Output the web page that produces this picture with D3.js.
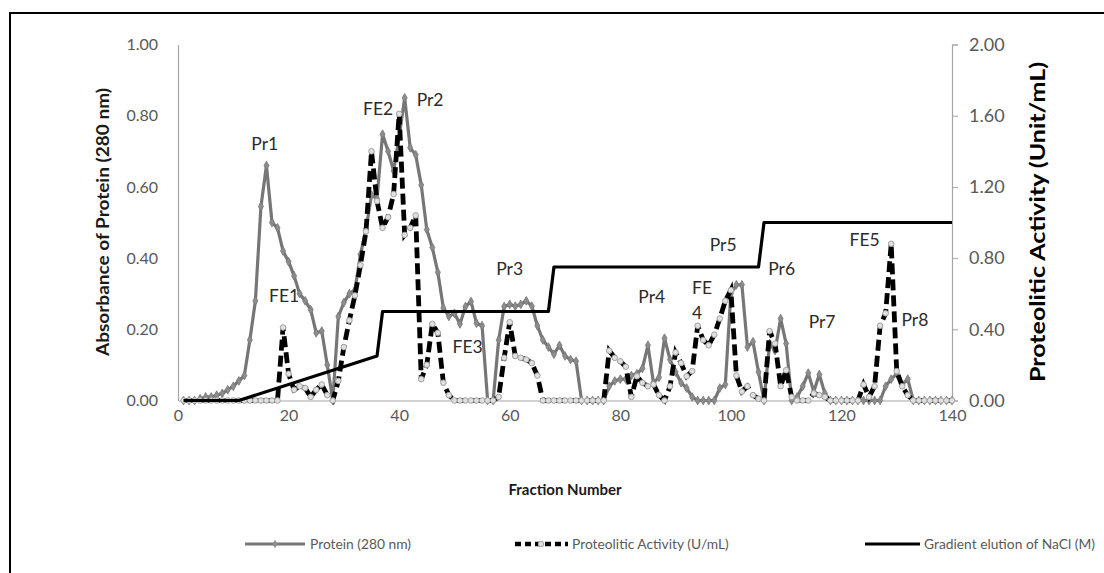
<!DOCTYPE html>
<html>
<head>
<meta charset="utf-8">
<script src="https://cdn.jsdelivr.net/npm/d3@7"></script>
<style>
  body { margin: 0; background: #fff; }
  text { font-family: Lato, "Open Sans", sans-serif; }
</style>
</head>
<body>
<svg id="chart" width="1104" height="573"></svg>
<script>
// fraction numbers 1..140
const fractions = d3.range(1, 141);

// absorbance at 280 nm (left axis), one per fraction
const protein = [
  0, 0, 0, 0.005, 0.01, 0.01, 0.015, 0.02, 0.03, 0.04,
  0.055, 0.07, 0.17, 0.28, 0.545, 0.66, 0.50, 0.485, 0.42, 0.39,
  0.35, 0.30, 0.28, 0.255, 0.19, 0.195, 0.10, 0, 0.236, 0.275,
  0.30, 0.31, 0.41, 0.48, 0.577, 0.567, 0.748, 0.70, 0.645, 0.74,
  0.85, 0.71, 0.69, 0.605, 0.48, 0.43, 0.36, 0.26, 0.236, 0.245,
  0.215, 0.264, 0.278, 0.217, 0.21, 0, 0, 0.17, 0.264, 0.27,
  0.265, 0.27, 0.28, 0.265, 0.21, 0.17, 0.15, 0.13, 0.155, 0.125,
  0.115, 0.11, 0, 0, 0, 0, 0, 0.04, 0.055, 0.06,
  0.06, 0.07, 0.075, 0.09, 0.155, 0.05, 0.065, 0.175, 0.115, 0.08,
  0.05, 0.035, 0.01, 0, 0, 0, 0, 0.035, 0.045, 0.30,
  0.325, 0.325, 0.15, 0.165, 0.08, 0, 0.16, 0.14, 0.23, 0.16,
  0, 0.01, 0.04, 0.077, 0.025, 0.073, 0.02, 0, 0, 0,
  0, 0, 0, 0, 0, 0, 0, 0.04, 0.06, 0.075,
  0.045, 0.06, 0, 0, 0, 0, 0, 0, 0, 0
];

// proteolitic activity U/mL (right axis), one per fraction
const activity = [
  0, 0, 0, 0, 0, 0, 0, 0, 0, 0,
  0, 0, 0, 0, 0, 0, 0, 0, 0.41, 0.15,
  0.06, 0.08, 0.07, 0.02, 0.06, 0.09, 0.03, 0, 0.11, 0.30,
  0.45, 0.59, 0.76, 0.95, 1.40, 1.12, 0.97, 1.03, 1.16, 1.61,
  0.93, 0.97, 1.04, 0.12, 0.20, 0.43, 0.38, 0.10, 0.03, 0,
  0, 0, 0, 0, 0, 0, 0, 0.02, 0.24, 0.44,
  0.25, 0.24, 0.23, 0.21, 0.14, 0, 0, 0, 0, 0,
  0, 0, 0, 0, 0, 0, 0, 0.28, 0.24, 0.22,
  0.19, 0.02, 0.136, 0.10, 0.08, 0.09, 0.03, 0, 0.08, 0.27,
  0.21, 0.136, 0.165, 0.42, 0.34, 0.31, 0.37, 0.46, 0.56, 0.62,
  0.14, 0.05, 0.08, 0.03, 0.01, 0, 0.39, 0.32, 0.08, 0.17,
  0.02, 0, 0, 0, 0.04, 0.03, 0.02, 0, 0, 0,
  0, 0, 0, 0.09, 0.02, 0.08, 0.42, 0.49, 0.88, 0.165,
  0.08, 0.03, 0, 0, 0, 0, 0, 0, 0, 0
];

// NaCl step gradient (right axis), break points
const gradientFractions = [1, 11, 36, 37, 67, 68, 105, 106, 140];
const gradientNaCl = [0, 0, 0.25, 0.5, 0.5, 0.75, 0.75, 1.0, 1.0];

const xTicks = [0, 20, 40, 60, 80, 100, 120, 140];
const leftTicks = [0, 0.2, 0.4, 0.6, 0.8, 1.0];
const rightTicks = [0, 0.4, 0.8, 1.2, 1.6, 2.0];

// peak annotations, anchored in (fraction, absorbance)
const peakNames = ["Pr1", "FE2", "Pr2", "FE1", "FE3", "Pr3", "Pr4", "FE", "4", "Pr5", "Pr6", "Pr7", "FE5", "Pr8"];
const peakFraction = [15.7, 36.2, 45.6, 19.2, 52.4, 60.0, 85.7, 94.8, 93.9, 98.6, 109.2, 116.5, 124.2, 133.3];
const peakAbs = [0.72, 0.82, 0.845, 0.295, 0.15, 0.37, 0.29, 0.315, 0.245, 0.437, 0.37, 0.222, 0.45, 0.227];

const svg = d3.select("#chart");

// outer frame (runs off the right and bottom edges like the source image)
svg.append("rect")
  .attr("x", 10).attr("y", 13)
  .attr("width", 1200).attr("height", 700)
  .attr("fill", "none")
  .attr("stroke", "#000")
  .attr("stroke-width", 2);

const x = d3.scaleLinear().domain([0, 140]).range([178, 952]);
const yL = d3.scaleLinear().domain([0, 1]).range([400.5, 44.5]);
const yR = d3.scaleLinear().domain([0, 2]).range([400.5, 44.5]);

// axes
const gx = svg.append("g")
  .attr("transform", `translate(0,${yL(0)})`)
  .call(d3.axisBottom(x).tickValues(xTicks).tickSize(0).tickPadding(9).tickFormat(d3.format("d")));
const gl = svg.append("g")
  .attr("transform", `translate(${x(0)},0)`)
  .call(d3.axisLeft(yL).tickValues(leftTicks).tickSize(0).tickPadding(20).tickFormat(d3.format(".2f")));
const gr = svg.append("g")
  .attr("transform", `translate(${x(140)},0)`)
  .call(d3.axisRight(yR).tickValues(rightTicks).tickSize(6).tickPadding(11).tickFormat(d3.format(".2f")));

[gx, gl, gr].forEach(g => {
  g.select(".domain").attr("stroke", "#a6a6a6").attr("stroke-width", 1.2);
  g.selectAll(".tick line").attr("stroke", "#a6a6a6");
  g.selectAll(".tick text").attr("fill", "#595959").attr("font-family", "Lato, sans-serif");
});
gx.selectAll(".tick text").attr("font-size", 16);
gl.selectAll(".tick text").attr("font-size", 16);
gr.selectAll(".tick text").attr("font-size", 18);

// axis titles
svg.append("text")
  .attr("transform", "translate(103,222) rotate(-90)")
  .attr("text-anchor", "middle").attr("dy", "0.35em")
  .attr("font-size", 16.5).attr("font-weight", "bold").attr("fill", "#1a1a1a")
  .attr("textLength", 268).attr("lengthAdjust", "spacingAndGlyphs")
  .text("Absorbance of Protein (280 nm)");
svg.append("text")
  .attr("transform", "translate(1038,222) rotate(-90)")
  .attr("text-anchor", "middle").attr("dy", "0.35em")
  .attr("font-size", 21).attr("font-weight", "bold").attr("fill", "#000")
  .attr("textLength", 320).attr("lengthAdjust", "spacingAndGlyphs")
  .text("Proteolitic Activity (Unit/mL)");
svg.append("text")
  .attr("x", 565).attr("y", 490)
  .attr("text-anchor", "middle").attr("dy", "0.35em")
  .attr("font-size", 15).attr("font-weight", "bold").attr("fill", "#1a1a1a")
  .text("Fraction Number");

// series
const proteinPts = fractions.map((f, i) => ({ f, v: protein[i] }));
const activityPts = fractions.map((f, i) => ({ f, v: activity[i] }));
const gradientPts = gradientFractions.map((f, i) => ({ f, v: gradientNaCl[i] }));

const plot = svg.append("g");

plot.append("path")
  .datum(proteinPts)
  .attr("fill", "none")
  .attr("stroke", "#767676")
  .attr("stroke-width", 3.2)
  .attr("stroke-linejoin", "round")
  .attr("d", d3.line().x(d => x(d.f)).y(d => yL(d.v)));

plot.selectAll("path.pmark")
  .data(proteinPts)
  .enter().append("path")
  .attr("class", "pmark")
  .attr("transform", d => `translate(${x(d.f)},${yL(d.v)})`)
  .attr("d", d3.symbol().type(d3.symbolDiamond).size(22))
  .attr("fill", "#8c8c8c")
  .attr("stroke", "#777")
  .attr("stroke-width", 0.8);

plot.append("path")
  .datum(activityPts)
  .attr("fill", "none")
  .attr("stroke", "#000")
  .attr("stroke-width", 4.8)
  .attr("stroke-dasharray", "11,5")
  .attr("d", d3.line().x(d => x(d.f)).y(d => yR(d.v)));

plot.selectAll("circle.amark")
  .data(activityPts)
  .enter().append("circle")
  .attr("class", "amark")
  .attr("cx", d => x(d.f))
  .attr("cy", d => yR(d.v))
  .attr("r", 2.8)
  .attr("fill", "#e0e0e0")
  .attr("stroke", "#a0a0a0")
  .attr("stroke-width", 1);

plot.append("path")
  .datum(gradientPts)
  .attr("fill", "none")
  .attr("stroke", "#000")
  .attr("stroke-width", 3.2)
  .attr("stroke-linejoin", "round")
  .attr("d", d3.line().x(d => x(d.f)).y(d => yR(d.v)));

// peak labels
svg.selectAll("text.peak")
  .data(peakNames)
  .enter().append("text")
  .attr("class", "peak")
  .attr("x", (d, i) => x(peakFraction[i]))
  .attr("y", (d, i) => yL(peakAbs[i]))
  .attr("dy", "0.35em")
  .attr("text-anchor", "middle")
  .attr("font-size", 17.5)
  .attr("fill", "#2b2b2b")
  .text(d => d);

// legend
const legendY = 544;
const leg = svg.append("g");
leg.append("line").attr("x1", 245).attr("x2", 305).attr("y1", legendY).attr("y2", legendY)
  .attr("stroke", "#767676").attr("stroke-width", 3);
leg.append("path").attr("transform", `translate(275,${legendY})`)
  .attr("d", d3.symbol().type(d3.symbolDiamond).size(22)).attr("fill", "#8c8c8c");
leg.append("line").attr("x1", 515).attr("x2", 568).attr("y1", legendY).attr("y2", legendY)
  .attr("stroke", "#000").attr("stroke-width", 4.5).attr("stroke-dasharray", "6,4");
leg.append("circle").attr("cx", 541).attr("cy", legendY).attr("r", 2.8)
  .attr("fill", "#e0e0e0").attr("stroke", "#a0a0a0");
leg.append("line").attr("x1", 865).attr("x2", 920).attr("y1", legendY).attr("y2", legendY)
  .attr("stroke", "#000").attr("stroke-width", 3);

const legendNames = ["Protein (280 nm)", "Proteolitic Activity (U/mL)", "Gradient elution of NaCl (M)"];
const legendTextX = [310, 572, 924];
leg.selectAll("text")
  .data(legendNames)
  .enter().append("text")
  .attr("x", (d, i) => legendTextX[i])
  .attr("y", legendY)
  .attr("dy", "0.35em")
  .attr("font-size", 13.8)
  .attr("fill", "#595959")
  .text(d => d);
</script>
</body>
</html>
